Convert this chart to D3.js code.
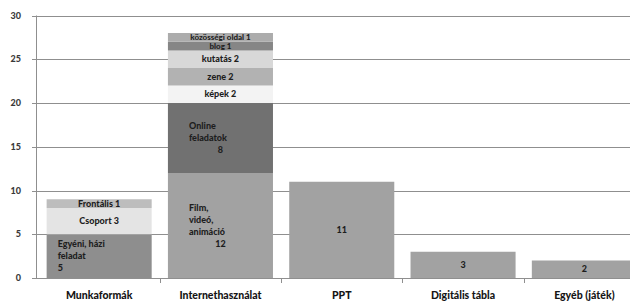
<!DOCTYPE html>
<html><head><meta charset="utf-8">
<script src="https://cdn.jsdelivr.net/npm/d3@7/dist/d3.min.js"></script>
<style>
html,body{margin:0;padding:0;background:#fff;overflow:hidden}
svg{display:block;font-family:Lato,"Open Sans",sans-serif}
</style></head>
<body>
<svg id="chart" width="630" height="304"></svg>
<script>
// ---- data ----
const categories = ["Munkaformák", "Internethasználat", "PPT", "Digitális tábla", "Egyéb (játék)"];
const yTicks = [0, 5, 10, 15, 20, 25, 30];

const munkaValues = [5, 3, 1];
const munkaLabels = [["Egyéni, házi", "feladat", "5"], ["Csoport 3"], ["Frontális 1"]];

const internetValues = [12, 8, 2, 2, 2, 1, 1];
const internetLabels = [["Film,", "videó,", "animáció", "12"], ["Online", "feladatok", "8"], ["képek 2"], ["zene 2"], ["kutatás 2"], ["blog 1"], ["közösségi oldal 1"]];

const singleValues = [11, 3, 2];   // PPT, Digitális tábla, Egyéb (játék)
const singleLabels = [["11"], ["3"], ["2"]];

// ---- styles ----
const munkaColors = ["#8e8e8e", "#e4e4e4", "#bdbdbd"];
const internetColors = ["#a2a2a2", "#717171", "#f3f3f3", "#b2b2b2", "#d8d8d8", "#868686", "#acacac"];
const singleColor = "#a2a2a2";

const svg = d3.select("#chart");
const x = d3.scaleBand().domain(categories).range([38.5, 645]).paddingInner(0.134).paddingOuter(0.067);
const y = d3.scaleLinear().domain([0, 30]).range([278, 15.5]);

// gridlines
svg.append("g").selectAll("line").data(yTicks.filter(d => d > 0)).join("line")
  .attr("x1", 36).attr("x2", 630)
  .attr("y1", d => Math.round(y(d)) + 0.5).attr("y2", d => Math.round(y(d)) + 0.5)
  .attr("stroke", "#8f8f8f").attr("stroke-width", 1);

// build segments
const segs = [];
function addStack(cat, values, labels, colors, mode) {
  let acc = 0;
  values.forEach((v, i) => {
    segs.push({cat, v, y0: acc, y1: acc + v, label: labels[i], color: Array.isArray(colors) ? colors[i] : colors, mode: mode(i)});
    acc += v;
  });
}
addStack(categories[0], munkaValues, munkaLabels, munkaColors, i => i === 0 ? "left" : "center");
addStack(categories[1], internetValues, internetLabels, internetColors, i => i < 2 ? "leftnum" : "center");
singleValues.forEach((v, i) => addStack(categories[2 + i], [v], [singleLabels[i]], singleColor, () => "center"));

svg.append("g").selectAll("rect").data(segs).join("rect")
  .attr("x", d => x(d.cat)).attr("width", x.bandwidth())
  .attr("y", d => y(d.y1)).attr("height", d => y(d.y0) - y(d.y1))
  .attr("fill", d => d.color);

// labels
const lh = 12;
const lg = svg.append("g").attr("font-weight", 900).attr("fill", "#1e1e1e");
segs.forEach(d => {
  const cy = (y(d.y0) + y(d.y1)) / 2;
  const n = d.label.length;
  const fs = d.v <= 1 && d.cat === categories[1] ? 8 : 9;
  d.label.forEach((t, j) => {
    const ty = cy + (j - (n - 1) / 2) * lh + fs / 3;
    let tx, anchor;
    const isNum = j === n - 1 && n > 1;
    if (d.mode === "center" || (d.mode === "leftnum" && isNum)) {
      tx = x(d.cat) + x.bandwidth() / 2; anchor = "middle";
    } else {
      tx = x(d.cat) + (d.mode === "left" ? 11 : 21); anchor = "start";
    }
    lg.append("text").attr("x", tx).attr("y", ty).attr("text-anchor", anchor)
      .attr("font-size", fs).text(t);
  });
});

// y axis
const yAxis = svg.append("g");
yAxis.append("line").attr("x1", 36.5).attr("x2", 36.5).attr("y1", y(30)).attr("y2", y(0)).attr("stroke", "#8f8f8f");
yAxis.selectAll(".tk").data(yTicks).join("line")
  .attr("x1", 32).attr("x2", 36)
  .attr("y1", d => Math.round(y(d)) + 0.5).attr("y2", d => Math.round(y(d)) + 0.5).attr("stroke", "#8f8f8f");
yAxis.selectAll("text").data(yTicks).join("text")
  .attr("x", 21).attr("y", d => y(d) + 3).attr("text-anchor", "end")
  .attr("font-size", 9).attr("font-weight", 900).attr("fill", "#3a3a3a").text(d => d);

// x axis
const xAxis = svg.append("g");
xAxis.append("line").attr("x1", 36).attr("x2", 630).attr("y1", 278.5).attr("y2", 278.5).attr("stroke", "#8f8f8f");
const bounds = categories.map(c => x(c) - x.step() * x.paddingInner() / 2);
xAxis.selectAll(".tk").data(bounds.slice(1)).join("line")
  .attr("x1", d => Math.round(d) + 0.5).attr("x2", d => Math.round(d) + 0.5)
  .attr("y1", 278).attr("y2", 283).attr("stroke", "#8f8f8f");
xAxis.selectAll("text").data(categories).join("text")
  .attr("x", d => x(d) + x.bandwidth() / 2).attr("y", 299).attr("text-anchor", "middle")
  .attr("font-size", 10.5).attr("font-weight", 900).attr("fill", "#151515").text(d => d);
</script>
</body></html>
